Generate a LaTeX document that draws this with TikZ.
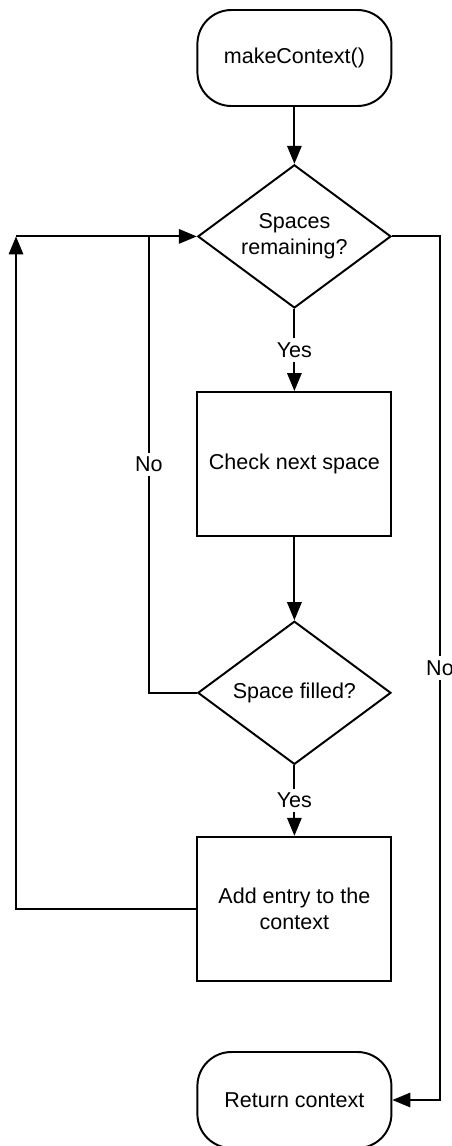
\documentclass[tikz,border=0pt]{standalone}
\usepackage{fontspec}
\setmainfont{Liberation Sans}
\usetikzlibrary{shapes.geometric,arrows.meta,calc}

\begin{document}
\begin{tikzpicture}[
	font=\fontsize{15.3}{18.4}\selectfont,
	line width=1.4pt,
	>={Triangle[length=0.45cm,width=0.36cm]},
	term/.style={draw,rounded corners=0.85cm,minimum width=4.85cm,minimum height=2.4cm},
	box/.style={draw,minimum width=4.85cm,minimum height=3.6cm,align=center},
	decision/.style={draw,diamond,aspect=1.35,inner sep=0pt,minimum width=4.83cm,minimum height=3.58cm,align=center},
	lbl/.style={fill=white,inner sep=3pt}
]
\useasboundingbox (0,0) rectangle (11.3,-28.65);

\node[term] (start) at (7.36,-1.45) {makeContext()};
\node[decision] (rem) at (7.36,-5.91) {Spaces\\remaining?};
\node[box] (check) at (7.36,-11.6) {Check next space};
\node[decision] (fill) at (7.36,-17.32) {Space filled?};
\node[box] (add) at (7.36,-22.72) {Add entry to the\\context};
\node[term] (ret) at (7.36,-27.5) {Return context};

\coordinate (noL) at ($(fill.west)+(-1.2,0)$);
\coordinate (noR) at ($(rem.east)+(1.2,0)$);
\coordinate (loop) at ($(rem.west)+(-4.52,0)$);

\draw[->] (start) -- (rem);
\draw[->] (rem) -- node[lbl]{Yes} (check);
\draw[->] (check) -- (fill);
\draw[->] (fill) -- node[lbl]{Yes} (add);
%back to the test when the space is taken
\draw[->] (fill.west) -- (noL) |- node[lbl,pos=0.25]{No} (rem.west);
\draw[->] (add.west) -| (loop);
\draw (loop) -- (noL |- rem.west);
\draw[->] (rem.east) -- (noR) |- node[lbl,pos=0.25]{No} (ret.east);
\end{tikzpicture}
\end{document}
